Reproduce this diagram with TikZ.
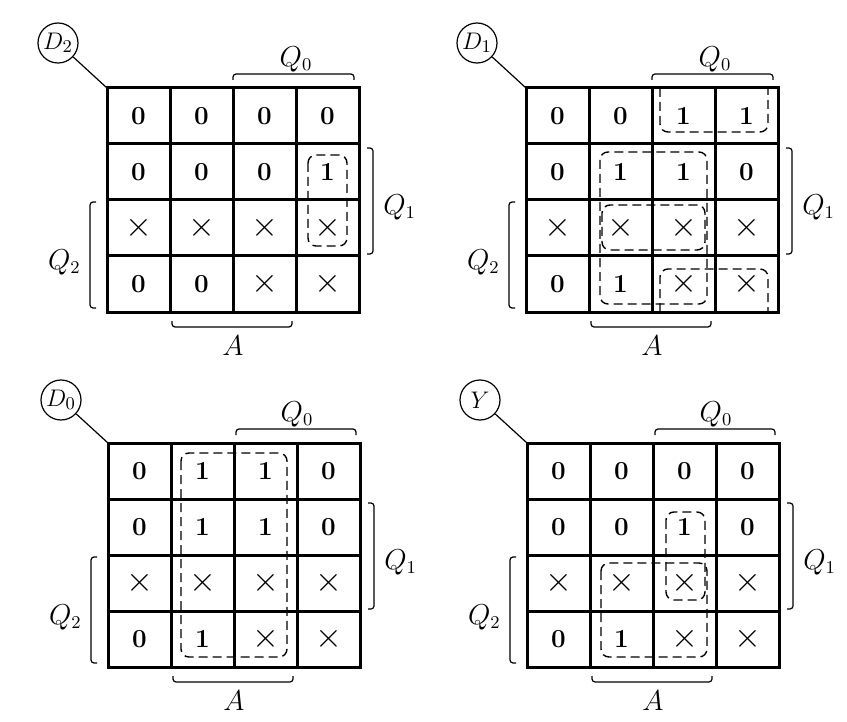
\documentclass[tikz,border=0pt]{standalone}
\usepackage{amssymb}

\begin{document}
\begin{tikzpicture}[x=0.5pt, y=-0.5pt,
	cell/.style={draw, line width=1.5pt, minimum width=31.5pt, minimum height=28pt, inner sep=0pt, outer sep=0pt, font=\fontsize{13}{15}\selectfont\bfseries},
	dc/.style={cell, font=\fontsize{17}{20}\selectfont},
	fnode/.style={draw, circle, line width=0.6pt, minimum size=20pt, inner sep=0pt, font=\fontsize{13}{15}\selectfont},
	wire/.style={line width=0.6pt},
	bracket/.style={line width=0.6pt, rounded corners=1.5pt},
	lbl/.style={inner sep=1pt, font=\fontsize{13.5}{16}\selectfont},
	impl/.style={line width=0.7pt, dash pattern=on 4.5pt off 2.5pt, rounded corners=4pt}]
	\useasboundingbox (0, 0) rectangle (847, 722);
	% map D2
	\begin{scope}[shift={(107, 88)}]
	\node[cell] (d2-11) at (31.5, 28){0} node[cell] (d2-12) at (94.5, 28){0} node[cell] (d2-13) at (157.5, 28){0} node[cell] (d2-14) at (220.5, 28){0};
	\node[cell] (d2-21) at (31.5, 84){0} node[cell] (d2-22) at (94.5, 84){0} node[cell] (d2-23) at (157.5, 84){0} node[cell] (d2-24) at (220.5, 84){1};
	\node[dc] (d2-31) at (31.5, 140){$\times$} node[dc] (d2-32) at (94.5, 140){$\times$} node[dc] (d2-33) at (157.5, 140){$\times$} node[dc] (d2-34) at (220.5, 140){$\times$};
	\node[cell] (d2-41) at (31.5, 196){0} node[cell] (d2-42) at (94.5, 196){0} node[dc] (d2-43) at (157.5, 196){$\times$} node[dc] (d2-44) at (220.5, 196){$\times$};
	\end{scope}
	\node[fnode] (d2) at ([shift={(-49, -45)}]d2-11.north west){$D_2$};
	\draw[wire] (d2) -- (d2-11.north west);
	\draw[bracket] ([shift={(0, -8)}]d2-13.north west) -- ++(0, -6) -| ([shift={(-5, -8)}]d2-14.north east);
	\draw[bracket] ([shift={(8, 4)}]d2-24.north east) -- ++(6, 0) |- ([shift={(8, -2)}]d2-34.south east);
	\draw[bracket] ([shift={(-11, 2)}]d2-31.north west) -- ++(-6, 0) |- ([shift={(-11, -4)}]d2-41.south west);
	\draw[bracket] ([shift={(2, 9)}]d2-42.south west) -- ++(0, 6) -| ([shift={(-4, 9)}]d2-43.south east);
	\node[lbl] (d2-q0) at ([shift={(0, -29)}]d2-13.north east){$Q_0$};
	\node[lbl, anchor=west] (d2-q1) at ([shift={(22, 7)}]d2-24.south east){$Q_1$};
	\node[lbl, anchor=east] (d2-q2) at ([shift={(-24, 6)}]d2-41.north west){$Q_2$};
	\node[lbl] (d2-a) at ([shift={(0, 34)}]d2-42.south east){$A$};
	\draw[impl] ([shift={(12, 11)}]d2-24.north west) rectangle ([shift={(-12, -10)}]d2-34.south east);
	% map D1
	\begin{scope}[shift={(526, 88)}]
	\node[cell] (d1-11) at (31.5, 28){0} node[cell] (d1-12) at (94.5, 28){0} node[cell] (d1-13) at (157.5, 28){1} node[cell] (d1-14) at (220.5, 28){1};
	\node[cell] (d1-21) at (31.5, 84){0} node[cell] (d1-22) at (94.5, 84){1} node[cell] (d1-23) at (157.5, 84){1} node[cell] (d1-24) at (220.5, 84){0};
	\node[dc] (d1-31) at (31.5, 140){$\times$} node[dc] (d1-32) at (94.5, 140){$\times$} node[dc] (d1-33) at (157.5, 140){$\times$} node[dc] (d1-34) at (220.5, 140){$\times$};
	\node[cell] (d1-41) at (31.5, 196){0} node[cell] (d1-42) at (94.5, 196){1} node[dc] (d1-43) at (157.5, 196){$\times$} node[dc] (d1-44) at (220.5, 196){$\times$};
	\end{scope}
	\node[fnode] (d1) at ([shift={(-49, -45)}]d1-11.north west){$D_1$};
	\draw[wire] (d1) -- (d1-11.north west);
	\draw[bracket] ([shift={(0, -8)}]d1-13.north west) -- ++(0, -6) -| ([shift={(-5, -8)}]d1-14.north east);
	\draw[bracket] ([shift={(8, 4)}]d1-24.north east) -- ++(6, 0) |- ([shift={(8, -2)}]d1-34.south east);
	\draw[bracket] ([shift={(-11, 2)}]d1-31.north west) -- ++(-6, 0) |- ([shift={(-11, -4)}]d1-41.south west);
	\draw[bracket] ([shift={(2, 9)}]d1-42.south west) -- ++(0, 6) -| ([shift={(-4, 9)}]d1-43.south east);
	\node[lbl] (d1-q0) at ([shift={(0, -29)}]d1-13.north east){$Q_0$};
	\node[lbl, anchor=west] (d1-q1) at ([shift={(22, 7)}]d1-24.south east){$Q_1$};
	\node[lbl, anchor=east] (d1-q2) at ([shift={(-24, 6)}]d1-41.north west){$Q_2$};
	\node[lbl] (d1-a) at ([shift={(0, 34)}]d1-42.south east){$A$};
	\draw[impl] ([shift={(8, 0)}]d1-13.north west) |- ([shift={(-10, -12)}]d1-14.south east) -- ([shift={(-10, 0)}]d1-14.north east);
	\draw[impl] ([shift={(8, 0)}]d1-43.south west) |- ([shift={(-10, 13)}]d1-44.north east) -- ([shift={(-10, 0)}]d1-44.south east);
	\draw[impl] ([shift={(11, 8)}]d1-22.north west) rectangle ([shift={(-8, -8)}]d1-43.south east);
	\draw[impl] ([shift={(13, 5)}]d1-32.north west) rectangle ([shift={(-10, -6)}]d1-33.south east);
	% map D0
	\begin{scope}[shift={(108, 443)}]
	\node[cell] (d0-11) at (31.5, 28){0} node[cell] (d0-12) at (94.5, 28){1} node[cell] (d0-13) at (157.5, 28){1} node[cell] (d0-14) at (220.5, 28){0};
	\node[cell] (d0-21) at (31.5, 84){0} node[cell] (d0-22) at (94.5, 84){1} node[cell] (d0-23) at (157.5, 84){1} node[cell] (d0-24) at (220.5, 84){0};
	\node[dc] (d0-31) at (31.5, 140){$\times$} node[dc] (d0-32) at (94.5, 140){$\times$} node[dc] (d0-33) at (157.5, 140){$\times$} node[dc] (d0-34) at (220.5, 140){$\times$};
	\node[cell] (d0-41) at (31.5, 196){0} node[cell] (d0-42) at (94.5, 196){1} node[dc] (d0-43) at (157.5, 196){$\times$} node[dc] (d0-44) at (220.5, 196){$\times$};
	\end{scope}
	\node[fnode] (d0) at ([shift={(-47, -43)}]d0-11.north west){$D_0$};
	\draw[wire] (d0) -- (d0-11.north west);
	\draw[bracket] ([shift={(2, -8)}]d0-13.north west) -- ++(0, -6) -| ([shift={(-4, -8)}]d0-14.north east);
	\draw[bracket] ([shift={(8, 4)}]d0-24.north east) -- ++(6, 0) |- ([shift={(8, -2)}]d0-34.south east);
	\draw[bracket] ([shift={(-11, 2)}]d0-31.north west) -- ++(-6, 0) |- ([shift={(-11, -4)}]d0-41.south west);
	\draw[bracket] ([shift={(2, 9)}]d0-42.south west) -- ++(0, 6) -| ([shift={(-4, 9)}]d0-43.south east);
	\node[lbl] (d0-q0) at ([shift={(0, -29)}]d0-13.north east){$Q_0$};
	\node[lbl, anchor=west] (d0-q1) at ([shift={(22, 7)}]d0-24.south east){$Q_1$};
	\node[lbl, anchor=east] (d0-q2) at ([shift={(-24, 6)}]d0-41.north west){$Q_2$};
	\node[lbl] (d0-a) at ([shift={(0, 34)}]d0-42.south east){$A$};
	\draw[impl] ([shift={(10, 10)}]d0-12.north west) rectangle ([shift={(-10, -10)}]d0-43.south east);
	% map Y
	\begin{scope}[shift={(527, 443)}]
	\node[cell] (y-11) at (31.5, 28){0} node[cell] (y-12) at (94.5, 28){0} node[cell] (y-13) at (157.5, 28){0} node[cell] (y-14) at (220.5, 28){0};
	\node[cell] (y-21) at (31.5, 84){0} node[cell] (y-22) at (94.5, 84){0} node[cell] (y-23) at (157.5, 84){1} node[cell] (y-24) at (220.5, 84){0};
	\node[dc] (y-31) at (31.5, 140){$\times$} node[dc] (y-32) at (94.5, 140){$\times$} node[dc] (y-33) at (157.5, 140){$\times$} node[dc] (y-34) at (220.5, 140){$\times$};
	\node[cell] (y-41) at (31.5, 196){0} node[cell] (y-42) at (94.5, 196){1} node[dc] (y-43) at (157.5, 196){$\times$} node[dc] (y-44) at (220.5, 196){$\times$};
	\end{scope}
	\node[fnode] (y) at ([shift={(-47, -43)}]y-11.north west){$Y$};
	\draw[wire] (y) -- (y-11.north west);
	\draw[bracket] ([shift={(2, -8)}]y-13.north west) -- ++(0, -6) -| ([shift={(-4, -8)}]y-14.north east);
	\draw[bracket] ([shift={(8, 4)}]y-24.north east) -- ++(6, 0) |- ([shift={(8, -2)}]y-34.south east);
	\draw[bracket] ([shift={(-11, 2)}]y-31.north west) -- ++(-6, 0) |- ([shift={(-11, -4)}]y-41.south west);
	\draw[bracket] ([shift={(2, 9)}]y-42.south west) -- ++(0, 6) -| ([shift={(-4, 9)}]y-43.south east);
	\node[lbl] (y-q0) at ([shift={(0, -29)}]y-13.north east){$Q_0$};
	\node[lbl, anchor=west] (y-q1) at ([shift={(22, 7)}]y-24.south east){$Q_1$};
	\node[lbl, anchor=east] (y-q2) at ([shift={(-24, 6)}]y-41.north west){$Q_2$};
	\node[lbl] (y-a) at ([shift={(0, 34)}]y-42.south east){$A$};
	\draw[impl] ([shift={(13, 13)}]y-23.north west) rectangle ([shift={(-11, -11)}]y-33.south east);
	\draw[impl] ([shift={(11, 8)}]y-32.north west) rectangle ([shift={(-9, -10)}]y-43.south east);
\end{tikzpicture}
\end{document}
